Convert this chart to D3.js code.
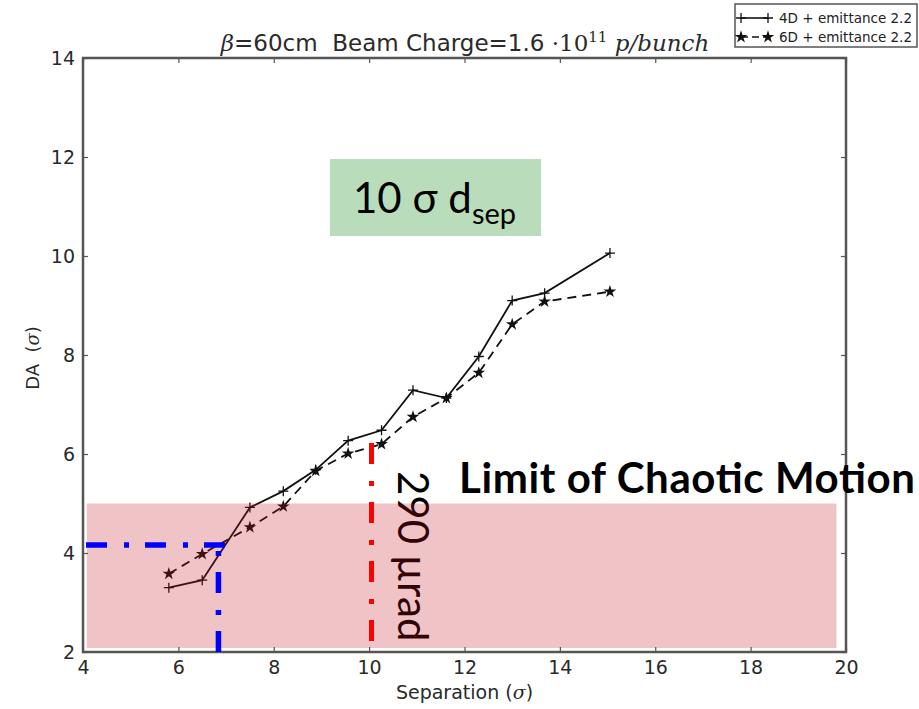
<!DOCTYPE html>
<html>
<head>
<meta charset="utf-8">
<script src="https://cdn.jsdelivr.net/npm/d3@7"></script>
<style>
  body { margin: 0; background: #fff; }
  svg text { white-space: pre; }
</style>
</head>
<body>
<svg id="chart" width="919" height="709"></svg>
<script>
// Dynamic aperture vs beam separation
const separation = [5.8, 6.5, 7.5, 8.2, 8.88, 9.56, 10.26, 10.92, 11.62, 12.3, 13.0, 13.68, 15.05];
const da4D = [3.30, 3.45, 4.92, 5.25, 5.68, 6.27, 6.48, 7.29, 7.13, 7.97, 9.10, 9.25, 10.06];
const da6D = [3.58, 3.98, 4.52, 4.94, 5.66, 6.01, 6.20, 6.75, 7.13, 7.64, 8.62, 9.08, 9.28];
const seriesNames = ["4D + emittance 2.2", "6D + emittance 2.2"];
const xTicks = [4, 6, 8, 10, 12, 14, 16, 18, 20];
const yTicks = [2, 4, 6, 8, 10, 12, 14];

// Annotation values (data units)
const chaoticBandX = [4.08, 19.8];
const chaoticBandY = [2.08, 5.0];
const blueGuide = [6.84, 4.16];     // separation, DA
const blueGuideEndX = 6.98;
const redGuide = [10.05, 6.22];     // separation, top DA

const svg = d3.select("#chart");
const x = d3.scaleLinear().domain([4, 20]).range([83, 846]);
const y = d3.scaleLinear().domain([2, 14]).range([652, 58]);

const pts4 = separation.map((s, i) => [s, da4D[i]]);
const pts6 = separation.map((s, i) => [s, da6D[i]]);
const line = d3.line().x(d => x(d[0])).y(d => y(d[1]));

const plot = svg.append("g");

// series lines
plot.append("path").datum(pts4).attr("d", line)
  .attr("fill", "none").attr("stroke", "#111").attr("stroke-width", 1.8);
plot.append("path").datum(pts6).attr("d", line)
  .attr("fill", "none").attr("stroke", "#111").attr("stroke-width", 1.8)
  .attr("stroke-dasharray", "9,6");

const plusPath = "M-5,0H5M0,-5V5";
const star = d3.symbol().type(d3.symbolStar).size(50);

plot.selectAll(".plus").data(pts4).join("path")
  .attr("d", plusPath).attr("transform", d => `translate(${x(d[0])},${y(d[1])})`)
  .attr("stroke", "#111").attr("stroke-width", 1.3).attr("fill", "none");
plot.selectAll(".star").data(pts6).join("path")
  .attr("d", star).attr("transform", d => `translate(${x(d[0])},${y(d[1])})`)
  .attr("fill", "#111");

// rotated angle annotation
svg.append("text")
  .attr("transform", "translate(398,471) rotate(90)")
  .attr("font-family", "Lato, sans-serif").attr("font-size", 42)
  .attr("fill", "#000").text("290 \u00B5rad");

// chaotic-motion band
svg.append("rect")
  .attr("x", x(chaoticBandX[0])).attr("width", x(chaoticBandX[1]) - x(chaoticBandX[0]))
  .attr("y", y(chaoticBandY[1])).attr("height", y(chaoticBandY[0]) - y(chaoticBandY[1]))
  .attr("fill", "rgb(195,19,27)").attr("fill-opacity", 0.25);

// frame
svg.append("rect").attr("x", x(4)).attr("y", y(14))
  .attr("width", x(20) - x(4)).attr("height", y(2) - y(14))
  .attr("fill", "none").attr("stroke", "#555").attr("stroke-width", 2.5);

// axes with inward ticks on all sides
const tickFont = "DejaVu Sans, sans-serif";
const xb = d3.axisBottom(x).tickValues(xTicks).tickSizeInner(-5).tickSizeOuter(0).tickPadding(9);
const gxb = svg.append("g").attr("transform", `translate(0,${y(2)})`).call(xb);
const xt = d3.axisTop(x).tickValues(xTicks).tickSizeInner(-5).tickSizeOuter(0).tickFormat("");
const gxt = svg.append("g").attr("transform", `translate(0,${y(14)})`).call(xt);
const yl = d3.axisLeft(y).tickValues(yTicks).tickSizeInner(-5).tickSizeOuter(0).tickPadding(8);
const gyl = svg.append("g").attr("transform", `translate(${x(4)},0)`).call(yl);
const yr = d3.axisRight(y).tickValues(yTicks).tickSizeInner(-5).tickSizeOuter(0).tickFormat("");
const gyr = svg.append("g").attr("transform", `translate(${x(20)},0)`).call(yr);
[gxb, gxt, gyl, gyr].forEach(g => {
  g.select(".domain").remove();
  g.selectAll(".tick line").attr("stroke", "#555").attr("stroke-width", 1.2);
  g.selectAll(".tick text").attr("font-family", tickFont).attr("font-size", 19).attr("fill", "#2a2a2a");
});

// guide lines
svg.append("line")
  .attr("x1", x(4)).attr("x2", x(blueGuideEndX)).attr("y1", y(blueGuide[1])).attr("y2", y(blueGuide[1]))
  .attr("stroke", "#0000ff").attr("stroke-width", 5.5).attr("stroke-dasharray", "21,17,5,16")
  .attr("stroke-dashoffset", -3);
svg.append("line")
  .attr("x1", x(blueGuide[0])).attr("x2", x(blueGuide[0])).attr("y1", y(blueGuide[1]) + 6).attr("y2", y(2))
  .attr("stroke", "#0000ff").attr("stroke-width", 5.5).attr("stroke-dasharray", "5,16,21,17");
svg.append("line")
  .attr("x1", x(redGuide[0])).attr("x2", x(redGuide[0])).attr("y1", y(redGuide[1])).attr("y2", y(2.1))
  .attr("stroke", "#ff0000").attr("stroke-width", 5).attr("stroke-dasharray", "21,17,5,16");

// title
const title = svg.append("text").attr("x", 465).attr("y", 51)
  .attr("text-anchor", "middle").attr("font-family", "DejaVu Sans, sans-serif")
  .attr("font-size", 23).attr("fill", "#2a2a2a");
title.append("tspan").attr("font-family", "DejaVu Serif, serif").attr("font-style", "italic").text("\u03B2");
title.append("tspan").text("=60cm  Beam Charge=1.6");
title.append("tspan").attr("font-family", "DejaVu Serif, serif").text(" \u00B710");
title.append("tspan").attr("font-family", "DejaVu Serif, serif").attr("font-size", 15).attr("dy", -9).text("11");
title.append("tspan").attr("font-family", "DejaVu Serif, serif").attr("font-style", "italic").attr("dy", 9).text(" p/bunch");

// axis labels
const xlab = svg.append("text").attr("x", (x(4) + x(20)) / 2).attr("y", 699)
  .attr("text-anchor", "middle").attr("font-family", "DejaVu Sans, sans-serif")
  .attr("font-size", 19).attr("fill", "#2a2a2a");
xlab.append("tspan").text("Separation (");
xlab.append("tspan").attr("font-family", "DejaVu Serif, serif").attr("font-style", "italic").text("\u03C3");
xlab.append("tspan").text(")");

const ylab = svg.append("text")
  .attr("transform", `translate(39,${(y(2) + y(14)) / 2 + 3}) rotate(-90)`)
  .attr("text-anchor", "middle").attr("font-family", "DejaVu Sans, sans-serif")
  .attr("font-size", 18).attr("fill", "#2a2a2a");
ylab.append("tspan").text("DA  (");
ylab.append("tspan").attr("font-family", "DejaVu Serif, serif").attr("font-style", "italic").text("\u03C3");
ylab.append("tspan").text(")");

// legend
const lg = svg.append("g");
lg.append("rect").attr("x", 735).attr("y", 4).attr("width", 182).attr("height", 43)
  .attr("fill", "#fff").attr("stroke", "#555").attr("stroke-width", 1.5);
const rows = [18, 37];
rows.forEach((ry, i) => {
  lg.append("line").attr("x1", 741).attr("x2", 768).attr("y1", ry).attr("y2", ry)
    .attr("stroke", "#111").attr("stroke-width", 1.6)
    .attr("stroke-dasharray", i === 1 ? "7,4" : null);
  [741, 768].forEach(mx => {
    if (i === 0) {
      lg.append("path").attr("d", plusPath).attr("transform", `translate(${mx},${ry})`)
        .attr("stroke", "#111").attr("stroke-width", 1.3);
    } else {
      lg.append("path").attr("d", star).attr("transform", `translate(${mx},${ry})`).attr("fill", "#111");
    }
  });
  lg.append("text").attr("x", 779).attr("y", ry + 4.5)
    .attr("font-family", "DejaVu Sans, sans-serif").attr("font-size", 13.5).attr("fill", "#222")
    .text(seriesNames[i]);
});

// separation callout
svg.append("rect").attr("x", 330).attr("y", 159).attr("width", 211).attr("height", 77)
  .attr("fill", "#b9dcba");
const sepLabel = svg.append("text").attr("x", 353).attr("y", 213)
  .attr("font-family", "Lato, sans-serif").attr("font-size", 42).attr("fill", "#000");
sepLabel.append("tspan").text("10 \u03C3 d");
sepLabel.append("tspan").attr("font-size", 29).attr("dy", 11).text("sep");

// chaotic-motion label
svg.append("text").attr("x", 459).attr("y", 493)
  .attr("font-family", "Lato, sans-serif").attr("font-weight", "bold").attr("font-size", 42)
  .attr("textLength", 456).attr("lengthAdjust", "spacing")
  .attr("fill", "#000").text("Limit of Chaotic Motion");
</script>
</body>
</html>
